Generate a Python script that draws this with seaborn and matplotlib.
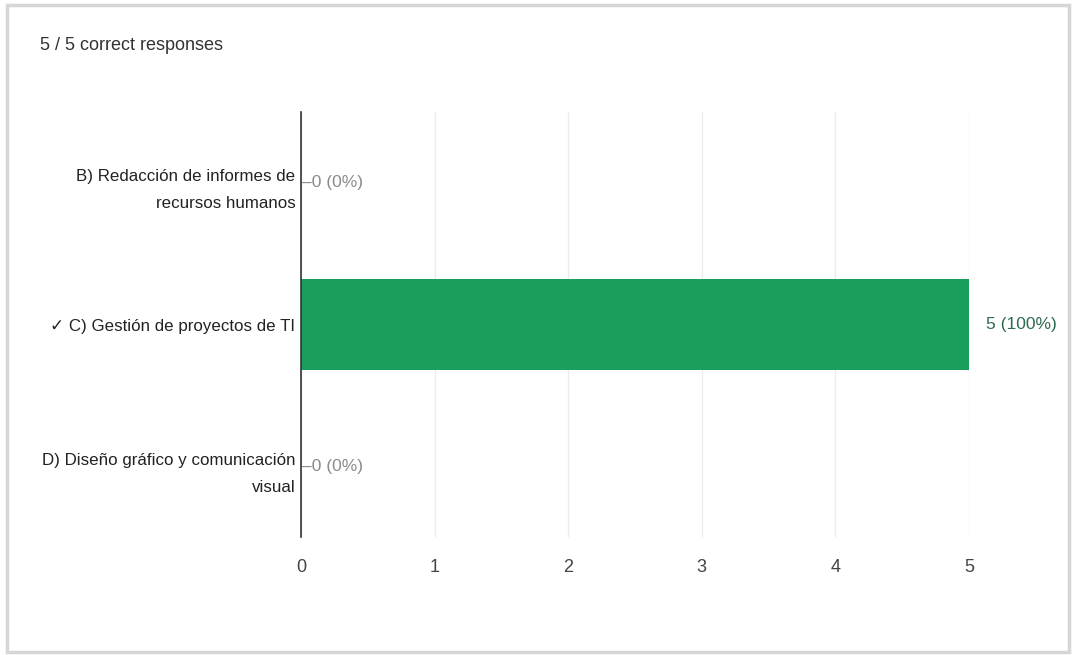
import matplotlib
matplotlib.use('Agg')
import matplotlib.pyplot as plt
import seaborn as sns
import pandas as pd
from matplotlib.patches import Rectangle

categories = ['B) Redacción de informes de\nrecursos humanos',
              '✓ C) Gestión de proyectos de TI',
              'D) Diseño gráfico y comunicación\nvisual']
counts = [0, 5, 0]
value_labels = ['0 (0%)', '5 (100%)', '0 (0%)']
title = '5 / 5 correct responses'
x_ticks = [0, 1, 2, 3, 4, 5]

sns.set_theme(style='white')
plt.rcParams['font.family'] = ['Liberation Sans', 'DejaVu Sans']

df = pd.DataFrame({'answer': categories, 'count': counts})

fig = plt.figure(figsize=(10.73, 6.55), dpi=100)
fig.patch.set_facecolor('white')

# card border like the screenshot
fig.patches.append(Rectangle((7 / 1073, 3 / 655), 1062 / 1073, 647 / 655,
                             transform=fig.transFigure, fill=False,
                             edgecolor='#d6d6d6', linewidth=2.5, zorder=0))

ax = fig.add_axes([301 / 1073, 118 / 655, 668 / 1073, 425 / 655])
sns.barplot(data=df, y='answer', x='count', color='#1a9e5c', width=0.64,
            saturation=1, linewidth=0, ax=ax, zorder=3)

ax.set_xlim(0, 5)
ax.set_ylim(2.5, -0.5)
ax.set_xticks(x_ticks)
ax.set_xticklabels([str(t) for t in x_ticks], fontsize=13, color='#444444')
ax.tick_params(axis='x', length=0, pad=16)
ax.tick_params(axis='y', length=0, pad=4)
ax.set_yticks(range(len(categories)))
ax.set_yticklabels(categories, fontsize=12.2, color='#222222', ha='right',
                   linespacing=2.0)
ax.set_xlabel('')
ax.set_ylabel('')
ax.xaxis.grid(True, color='#ececec', linewidth=1)
ax.set_axisbelow(True)
for side in ['top', 'right', 'bottom']:
    ax.spines[side].set_visible(False)
ax.spines['left'].set_color('#333333')
ax.spines['left'].set_linewidth(1.2)
ax.spines['left'].set_zorder(5)

for i, (v, lab) in enumerate(zip(counts, value_labels)):
    if v == 0:
        ax.annotate('–' + lab, xy=(v, i), xytext=(1, 0), textcoords='offset points',
                    va='center', ha='left', fontsize=12.5, color='#8a8a8a')
    else:
        ax.annotate(lab, xy=(v, i), xytext=(12, 0), textcoords='offset points',
                    va='center', ha='left', fontsize=12.5, color='#2e6b4e')

fig.text(40 / 1073, 1 - 46 / 655, title, fontsize=13, color='#333333',
         va='center', ha='left')

fig.savefig('out.png', dpi=100, facecolor='white')
